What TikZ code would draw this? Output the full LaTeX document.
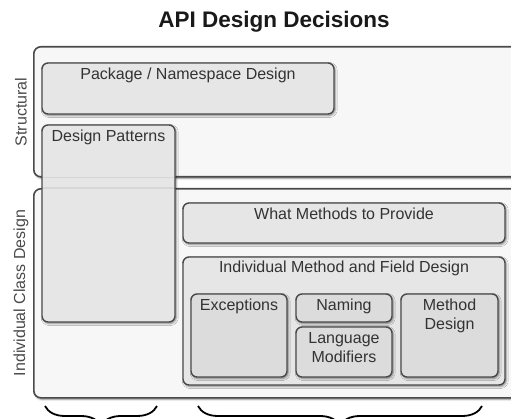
\documentclass[tikz,border=0pt]{standalone}
\usepackage{fontspec}
\setmainfont{Liberation Sans}
\usetikzlibrary{shadows.blur,decorations.pathreplacing}
\definecolor{edge}{HTML}{4A4A4A}
\definecolor{layerfill}{HTML}{F7F7F7}
\definecolor{boxfill}{HTML}{E6E6E6}
\definecolor{subfill}{HTML}{DCDCDC}
\definecolor{ink}{HTML}{333333}
\tikzset{
  softshadow/.style={blur shadow={shadow xshift=1.2pt, shadow yshift=-1.5pt,
      shadow blur radius=2pt, shadow blur steps=6, shadow opacity=45}},
  layer/.style={draw=edge, line width=1.6pt, fill=layerfill,
      rounded corners=7pt, softshadow},
  area/.style={draw=edge, line width=1.4pt, fill=boxfill, rounded corners=6pt,
      anchor=north west, inner sep=0pt, outer sep=0pt, softshadow},
  subarea/.style={area, fill=subfill},
  caption/.style={anchor=base, font=\fontsize{16}{18.5}\selectfont,
      text=ink, align=center, inner sep=0pt},
  sidecaption/.style={font=\fontsize{16}{19}\selectfont, text=edge,
      rotate=90, inner sep=0pt},
  ghostline/.style={draw=edge, line width=1.4pt, draw opacity=0.1},
  bracket/.style={draw=black, line width=1.8pt,
      decorate, decoration={brace, mirror, amplitude=20pt}},
}
\begin{document}
\begin{tikzpicture}[x=1pt, y=-1pt]
  \useasboundingbox (0,0) rectangle (511,419);
  \clip (0,0) rectangle (511,419);

  % title
  \node[anchor=base, font=\fontsize{22.5}{26}\selectfont\bfseries, text=black!90,
        inner sep=0pt] (title) at (274,28) {API Design Decisions};

  % the two layers, running off to the right
  \node[layer, anchor=north west, inner sep=0pt, minimum width=500pt,
        minimum height=130pt] (structural) at (33,46) {};
  \node[layer, anchor=north west, inner sep=0pt, minimum width=500pt,
        minimum height=209pt] (classdesign) at (33,188) {};
  \node[sidecaption] (structlabel) at (21,112) {Structural};
  \node[sidecaption] (classlabel) at (21,293) {Individual Class Design};

  % structural decisions
  \node[area, minimum width=292pt, minimum height=51pt] (pkg) at (42,63) {};
  \node[caption] (pkgtext) at ([yshift=-17pt]pkg.north) {Package / Namespace Design};

  \node[area, minimum width=133pt, minimum height=197pt] (patterns) at (42,125) {};
  \node[caption] (patternstext) at ([yshift=-17pt]patterns.north) {Design Patterns};
  % layer borders faintly visible through the patterns box
  \draw[ghostline] (structural.south -| patterns.west) -- (structural.south -| patterns.east);
  \draw[ghostline] (classdesign.north -| patterns.west) -- (classdesign.north -| patterns.east);

  % class level decisions
  \node[area, minimum width=322pt, minimum height=40pt] (methods) at (183,203) {};
  \node[caption] (methodstext) at ([yshift=-17pt]methods.north) {What Methods to Provide};

  \node[area, minimum width=322pt, minimum height=128pt] (fields) at (183,257) {};
  \node[caption] (fieldstext) at ([yshift=-16pt]fields.north) {Individual Method and Field Design};

  \node[subarea, minimum width=96pt, minimum height=83pt] (exceptions) at (191,294) {};
  \node[caption] (exceptionstext) at ([yshift=-17pt]exceptions.north) {Exceptions};

  \node[subarea, minimum width=96pt, minimum height=28pt] (naming) at (296,294) {};
  \node[caption] (namingtext) at ([yshift=-17pt]naming.north) {Naming};

  % two-line captions: the base anchor sits on the last line
  \node[subarea, minimum width=96pt, minimum height=50pt] (modifiers) at (296,327) {};
  \node[caption] (modifierstext) at ([yshift=-35.5pt]modifiers.north) {Language\\Modifiers};

  \node[subarea, minimum width=97pt, minimum height=83pt] (mdesign) at (401,294) {};
  \node[caption] (mdesigntext) at ([yshift=-35.5pt]mdesign.north) {Method\\Design};

  % grouping braces below the layers
  \coordinate (braceAa) at (45,406);
  \coordinate (braceAb) at (157,406);
  \coordinate (braceBa) at (198,406);
  \coordinate (braceBb) at (482,406);
  \draw[bracket] (braceAa) -- (braceAb);
  \draw[bracket] (braceBa) -- (braceBb);
\end{tikzpicture}
\end{document}
